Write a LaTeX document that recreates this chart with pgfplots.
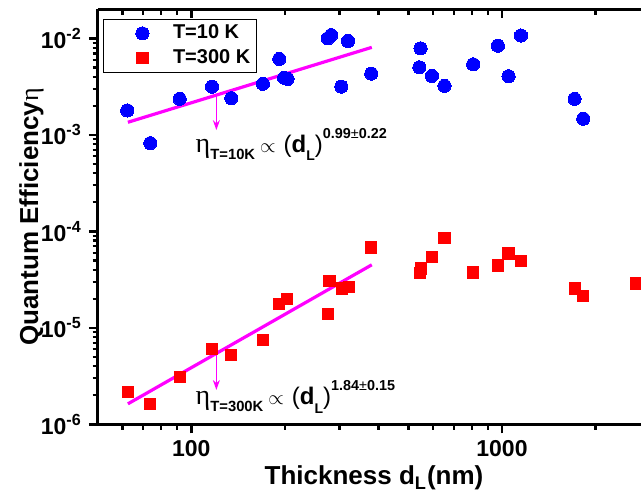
\documentclass[border=0pt]{standalone}
\usepackage{pgfplots}
\pgfplotsset{compat=1.18}
\usepackage{fontspec}
\setmainfont{Liberation Sans}
\newfontfamily\serifgreek{Liberation Serif}
\usetikzlibrary{arrows.meta}
\definecolor{mag}{RGB}{255,0,255}

\newcommand\ann[2]{%
 {\serifgreek\fontsize{14}{14}\selectfont η}%
 \raisebox{-3.3pt}{\fontsize{7.4}{8}\selectfont\bfseries #1}%
 \hspace{2.5pt}$\propto$\hspace{4pt}%
 {\fontsize{12}{12}\selectfont(\textbf{d}}%
 \raisebox{-4.2pt}{\fontsize{7}{8}\selectfont\bfseries L}%
 {\fontsize{12}{12}\selectfont)}%
 \raisebox{7pt}{\fontsize{7.2}{8}\selectfont\bfseries #2}}

\pgfplotstableread{
x y
62.2 1.79e-3
73.8 8.2e-4
91.7 2.36e-3
116.6 3.16e-3
134.5 2.40e-3
170 3.38e-3
192 6.12e-3
199 3.9e-3
204 3.8e-3
275 1.0e-2
282 1.08e-2
304 3.16e-3
319.5 9.4e-3
379.6 4.31e-3
547 7.88e-3
542 5.01e-3
595 4.08e-3
653 3.22e-3
808 5.38e-3
970 8.4e-3
1050 4.05e-3
1151 1.07e-2
1713 2.36e-3
1827 1.47e-3
}\lowT

\pgfplotstableread{
x y
62.5 2.18e-6
73.8 1.62e-6
91.7 3.08e-6
116.6 6.04e-6
134.5 5.23e-6
170 7.48e-6
192 1.76e-5
203 2.0e-5
278.6 3.05e-5
275 1.40e-5
306 2.56e-5
321 2.66e-5
379.6 6.8e-5
543 3.71e-5
548 4.12e-5
595 5.45e-5
653 8.55e-5
808 3.75e-5
970 4.43e-5
1050 5.9e-5
1151 4.94e-5
1713 2.56e-5
1827 2.15e-5
2706 2.88e-5
}\highT

\pgfplotsset{myimg/.style={legend image code/.code={\path[draw=none,fill=none] (0pt,-3pt) rectangle (31.7pt,3pt); \draw[##1, mark repeat=2, mark phase=2] plot coordinates {(0pt,0pt) (19.4pt,0pt) (31.7pt,0pt)};}}}

\begin{document}
\begin{tikzpicture}
\useasboundingbox (-48.9pt,-34.35pt) rectangle (271.6pt,212.15pt);
\begin{axis}[
 at={(0,0)}, anchor=south west, scale only axis,
 width=276.2pt, height=207.5pt,
 xmode=log, ymode=log, xmin=50, xmax=3000, ymin=1e-6, ymax=2e-2,
 axis x line*=bottom, axis y line*=left,
 axis line style={line width=1.6pt, -},
 tick align=outside,
 major tick length=4.5pt, minor tick length=2.6pt,
 tick style={black, line width=1.2pt},
 xtick={100,1000}, xticklabels={100,1000},
 minor xtick={60,70,80,90,200,300,400,500,600,700,800,900,2000,3000},
 ytick={1e-6,1e-5,1e-4,1e-3,1e-2},
 yticklabels={10\textsuperscript{-6},10\textsuperscript{-5},10\textsuperscript{-4},10\textsuperscript{-3},10\textsuperscript{-2}},
 minor ytick={2e-6,3e-6,4e-6,5e-6,6e-6,7e-6,8e-6,9e-6,
  2e-5,3e-5,4e-5,5e-5,6e-5,7e-5,8e-5,9e-5,
  2e-4,3e-4,4e-4,5e-4,6e-4,7e-4,8e-4,9e-4,
  2e-3,3e-3,4e-3,5e-3,6e-3,7e-3,8e-3,9e-3},
 tick label style={font=\fontsize{11.5}{13}\selectfont\bfseries},
 xlabel={Thickness d\textsubscript{L}(nm)},
 ylabel={Quantum Efficiency{\serifgreek\mdseries η}},
 label style={font=\fontsize{13}{15}\selectfont\bfseries},
 xlabel style={at={(axis description cs:0.5,-0.146)}, anchor=base},
 ylabel style={at={(axis description cs:-0.108,0.5)}, anchor=base},
 legend style={at={(axis description cs:0,1)}, anchor=north west,
   xshift=2.6pt, yshift=-4.8pt, draw=black, line width=0.6pt,
   font=\fontsize{10}{12}\selectfont\bfseries,
   inner xsep=0pt, inner ysep=1.2pt, row sep=1pt,
   nodes={inner xsep=3pt, inner ysep=1.5pt}},
 legend cell align=left,
]
\addplot[only marks, myimg, mark=*, mark size=3.3pt, mark options={draw=blue, fill=blue, line width=0pt}] table[x=x,y=y] {\lowT};
\addlegendentry{T=10 K}
\addplot[only marks, myimg, mark=square*, mark size=2.8pt, mark options={draw=red, fill=red, line width=0pt}] table[x=x,y=y] {\highT};
\addlegendentry{T=300 K}

\addplot[mag, line width=1.6pt, forget plot] coordinates {(62.5,1.35e-3) (381,8.07e-3)};
\addplot[mag, line width=1.6pt, forget plot] coordinates {(62.5,1.63e-6) (381,4.5e-5)};
\addplot[mag, line width=0.6pt, -{Stealth[length=5pt,width=3.5pt]}, forget plot] coordinates {(120.4,2.5e-3) (120.4,1.12e-3)};
\addplot[mag, line width=0.6pt, -{Stealth[length=5pt,width=3.5pt]}, forget plot] coordinates {(120.4,5.2e-6) (120.4,2.27e-6)};

\node[anchor=base west, inner sep=0pt] at (axis cs:103,6.56e-4) {\ann{T=10K}{0.99{\mdseries ±}0.22}};
\node[anchor=base west, inner sep=0pt] at (axis cs:103,1.60e-6) {\ann{T=300K}{1.84{\mdseries ±}0.15}};
\end{axis}
\begin{axis}[
 at={(0,0)}, anchor=south west, scale only axis,
 width=276.2pt, height=207.5pt,
 xmode=log, ymode=log, xmin=50, xmax=3000, ymin=1e-6, ymax=2e-2,
 axis x line*=top, axis y line=none,
 axis line style={line width=1.6pt, -},
 tick align=inside,
 major tick length=4.5pt, minor tick length=2.6pt,
 tick style={black, line width=1.2pt},
 xtick={100,1000}, xticklabels={},
 minor xtick={60,70,80,90,200,300,400,500,600,700,800,900,2000,3000},
 ytick=\empty,
]
\addplot[draw=none] coordinates {(100,1e-3)};
\end{axis}
\end{tikzpicture}
\end{document}
